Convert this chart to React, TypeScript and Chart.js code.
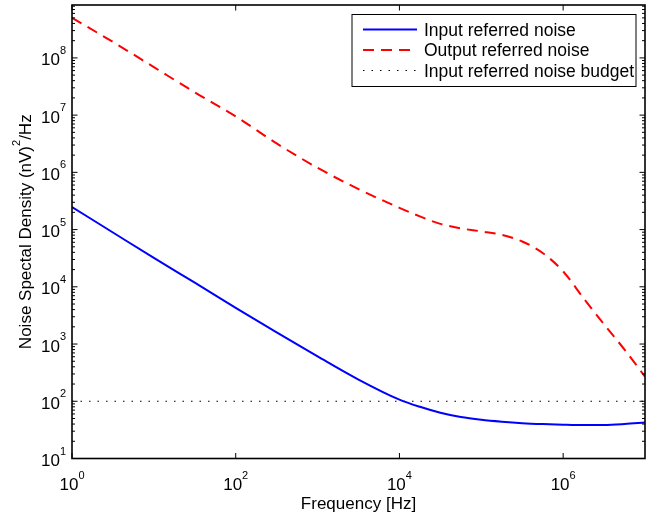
import React, { useEffect, useRef } from "react";
import { Chart, registerables } from "chart.js";

Chart.register(...registerables);

// ---------- data ----------
const FREQ_HZ = [
  1, 3.162, 10, 31.62, 100, 316.2, 1000, 3162, 10000, 17783, 31623, 56234,
  100000, 177828, 316228, 562341, 1000000, 1778279, 3162278, 5623413, 10000000,
];
const INPUT_NOISE = [
  248000, 89000, 32000, 11800, 4300, 1600, 610, 240, 107, 80, 63, 53, 47.5,
  44, 41.5, 40, 39, 38.4, 38.5, 40, 42.5,
];
const OUTPUT_NOISE = [
  500000000, 190000000, 69000000, 25000000, 9500000, 3200000, 1200000, 510000,
  240000, 170000, 126000, 105000, 93000, 81000, 62000, 39000, 18600, 6300,
  2200, 800, 270,
];
const BUDGET_FREQ = [1, 10000000];
const BUDGET_NOISE = [100, 100];

const SERIES_LABELS = [
  "Input referred noise",
  "Output referred noise",
  "Input referred noise budget",
];

const X_TICK_EXP = [0, 2, 4, 6];
const Y_TICK_EXP = [1, 2, 3, 4, 5, 6, 7, 8];
const X_MIN = 1;
const X_MAX = 10000000;
const Y_MIN = 10;
const Y_MAX = 840000000;

const X_TITLE = "Frequency [Hz]";
const Y_TITLE_MAIN = "Noise Spectal Density (nV)";
const Y_TITLE_SUP = "2";
const Y_TITLE_END = "/Hz";

const FONT = '"Liberation Sans", Arial, Helvetica, sans-serif';

function drawPow(ctx: CanvasRenderingContext2D, exp: number, x: number, baseY: number, align: "center" | "right") {
  ctx.font = `17px ${FONT}`;
  const w1 = ctx.measureText("10").width;
  ctx.font = `11px ${FONT}`;
  const w2 = ctx.measureText(String(exp)).width;
  const total = w1 + w2;
  const start = align === "center" ? x - total / 2 : x - total;
  ctx.textAlign = "left";
  ctx.textBaseline = "alphabetic";
  ctx.fillStyle = "#000";
  ctx.font = `17px ${FONT}`;
  ctx.fillText("10", start, baseY);
  ctx.font = `11px ${FONT}`;
  ctx.fillText(String(exp), start + w1, baseY - 11.5);
}

const matlabPlugin = {
  id: "matlabAxes",
  afterDraw(chart: any) {
    const ctx: CanvasRenderingContext2D = chart.ctx;
    const { left, right, top, bottom } = chart.chartArea;
    const xs = chart.scales.x;
    const ys = chart.scales.y;
    ctx.save();

    // ticks
    ctx.strokeStyle = "#000";
    ctx.lineWidth = 1;
    ctx.beginPath();
    const MAJ = 5.5;
    const MIN = 3;
    Y_TICK_EXP.forEach((e) => {
      const v = Math.pow(10, e);
      const py = ys.getPixelForValue(v);
      if (py >= top - 0.5 && py <= bottom + 0.5) {
        ctx.moveTo(left, py);
        ctx.lineTo(left + MAJ, py);
        ctx.moveTo(right, py);
        ctx.lineTo(right - MAJ, py);
      }
      for (let m = 2; m <= 9; m++) {
        const mv = m * v;
        if (mv > Y_MAX) break;
        const my = ys.getPixelForValue(mv);
        ctx.moveTo(left, my);
        ctx.lineTo(left + MIN, my);
        ctx.moveTo(right, my);
        ctx.lineTo(right - MIN, my);
      }
    });
    X_TICK_EXP.forEach((e) => {
      const px = xs.getPixelForValue(Math.pow(10, e));
      ctx.moveTo(px, bottom);
      ctx.lineTo(px, bottom - MAJ);
      ctx.moveTo(px, top);
      ctx.lineTo(px, top + MAJ);
    });
    ctx.stroke();

    // box
    ctx.lineWidth = 1.6;
    ctx.strokeRect(left, top, right - left, bottom - top);

    // tick labels
    Y_TICK_EXP.forEach((e) => {
      const py = ys.getPixelForValue(Math.pow(10, e));
      drawPow(ctx, e, left - 6, py + 7.5, "right");
    });
    X_TICK_EXP.forEach((e) => {
      const px = xs.getPixelForValue(Math.pow(10, e));
      drawPow(ctx, e, px, 490, "center");
    });

    // x title
    ctx.fillStyle = "#000";
    ctx.font = `17px ${FONT}`;
    ctx.textAlign = "center";
    ctx.textBaseline = "alphabetic";
    ctx.fillText(X_TITLE, (left + right) / 2, 509);

    // y title (rotated)
    ctx.save();
    ctx.translate(31, (top + bottom) / 2);
    ctx.rotate(-Math.PI / 2);
    ctx.font = `17px ${FONT}`;
    const wa = ctx.measureText(Y_TITLE_MAIN).width;
    const wc = ctx.measureText(Y_TITLE_END).width;
    ctx.font = `11px ${FONT}`;
    const wb = ctx.measureText(Y_TITLE_SUP).width;
    let sx = -(wa + wb + wc) / 2;
    ctx.textAlign = "left";
    ctx.font = `17px ${FONT}`;
    ctx.fillText(Y_TITLE_MAIN, sx, 0);
    sx += wa;
    ctx.font = `11px ${FONT}`;
    ctx.fillText(Y_TITLE_SUP, sx, -11.5);
    sx += wb;
    ctx.font = `17px ${FONT}`;
    ctx.fillText(Y_TITLE_END, sx, 0);
    ctx.restore();

    // legend
    const bx = right - 293;
    const by = top + 9.5;
    const bw = 284;
    const bh = 72;
    ctx.fillStyle = "#fff";
    ctx.fillRect(bx, by, bw, bh);
    ctx.strokeStyle = "#000";
    ctx.lineWidth = 1;
    ctx.strokeRect(bx, by, bw, bh);
    const rows = [15, 35.5, 56];
    chart.data.datasets.forEach((ds: any, i: number) => {
      const ry = by + rows[i];
      ctx.save();
      ctx.strokeStyle = ds.borderColor;
      ctx.lineWidth = ds.borderWidth;
      ctx.setLineDash(ds.borderDash || []);
      ctx.beginPath();
      ctx.moveTo(bx + 11, ry);
      ctx.lineTo(bx + 65, ry);
      ctx.stroke();
      ctx.restore();
      ctx.fillStyle = "#000";
      ctx.font = `17.5px ${FONT}`;
      ctx.textAlign = "left";
      ctx.textBaseline = "alphabetic";
      ctx.fillText(ds.label, bx + 72, ry + 6.3);
    });

    ctx.restore();
  },
};

export default function App() {
  const canvasRef = useRef<HTMLCanvasElement | null>(null);

  useEffect(() => {
    const canvas = canvasRef.current;
    if (!canvas) return;
    const chart = new Chart(canvas, {
      type: "line",
      data: {
        datasets: [
          {
            label: SERIES_LABELS[0],
            data: FREQ_HZ.map((f, i) => ({ x: f, y: INPUT_NOISE[i] })),
            borderColor: "#0000ff",
            borderWidth: 2,
            pointRadius: 0,
            cubicInterpolationMode: "monotone",
            fill: false,
          },
          {
            label: SERIES_LABELS[1],
            data: FREQ_HZ.map((f, i) => ({ x: f, y: OUTPUT_NOISE[i] })),
            borderColor: "#ff0000",
            borderWidth: 2,
            borderDash: [11, 7],
            pointRadius: 0,
            cubicInterpolationMode: "monotone",
            fill: false,
          },
          {
            label: SERIES_LABELS[2],
            data: BUDGET_FREQ.map((f, i) => ({ x: f, y: BUDGET_NOISE[i] })),
            borderColor: "#000000",
            borderWidth: 1.2,
            borderDash: [1.5, 7],
            pointRadius: 0,
            fill: false,
          },
        ],
      },
      options: {
        animation: false,
        responsive: false,
        events: [],
        layout: { padding: { top: 5, right: 20, left: 0, bottom: 0 } },
        plugins: {
          legend: { display: false },
          tooltip: { enabled: false },
        },
        scales: {
          x: {
            type: "logarithmic",
            min: X_MIN,
            max: X_MAX,
            grid: { display: false },
            border: { display: false },
            ticks: { display: false },
            afterFit: (s: any) => {
              s.height = 57.5;
            },
          },
          y: {
            type: "logarithmic",
            min: Y_MIN,
            max: Y_MAX,
            grid: { display: false },
            border: { display: false },
            ticks: { display: false },
            afterFit: (s: any) => {
              s.width = 72;
            },
          },
        },
      },
      plugins: [matlabPlugin],
    });
    return () => chart.destroy();
  }, []);

  return (
    <div style={{ position: "absolute", left: 0, top: 0, width: 665, height: 516, background: "#fff" }}>
      <canvas ref={canvasRef} width={665} height={516} />
    </div>
  );
}
